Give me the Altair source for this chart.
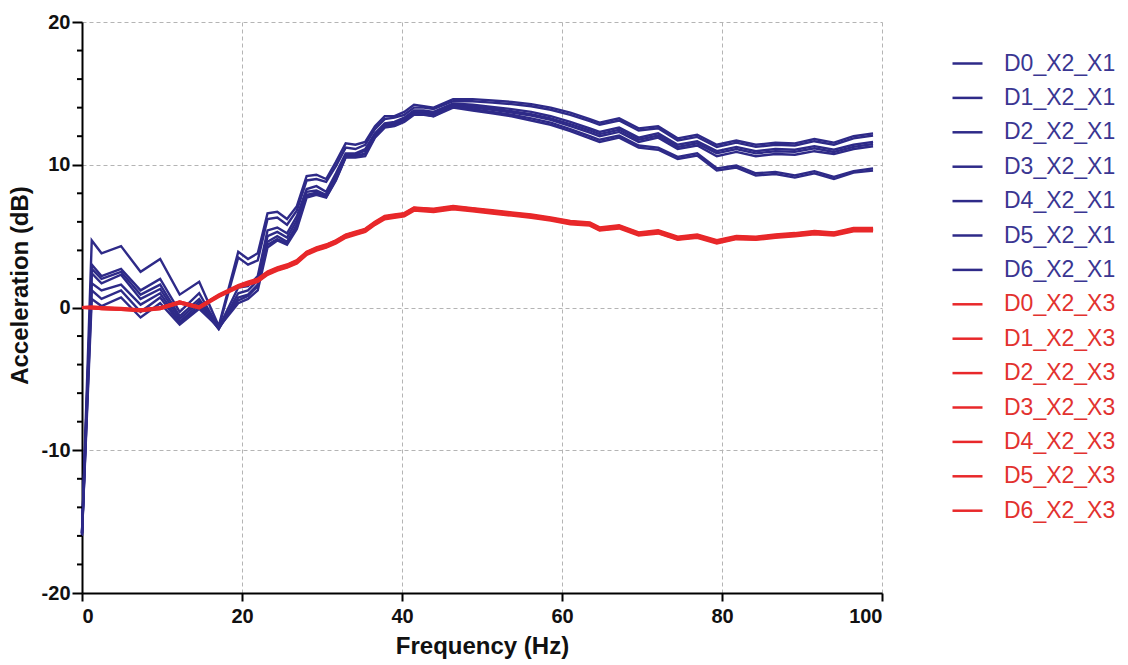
import altair as alt
import pandas as pd

# ---------------- data ----------------
freq = [0, 1.22, 2.44, 4.88, 7.32, 9.77, 12.21, 14.65, 17.09, 19.53,
        20.75, 21.97, 23.19, 24.41, 25.63, 26.86, 28.08, 29.30, 30.52, 31.74,
        32.96, 34.18, 35.40, 36.62, 37.84, 39.06, 40.28, 41.50, 42.72, 43.95,
        46.39, 48.83, 51.27, 53.71, 56.15, 58.59, 61.04, 63.48, 64.70, 67.14,
        69.58, 72.02, 74.46, 76.90, 79.35, 81.79, 84.23, 86.67, 89.11, 91.55,
        93.99, 96.44, 98.88]

blue_D0 = [-15.8, 4.7, 3.8, 4.3, 2.5, 3.4, 0.9, 1.8, -1.3, 3.9,
           3.4, 3.8, 6.6, 6.7, 6.2, 7.1, 9.2, 9.3, 9.0, 10.2,
           11.5, 11.4, 11.6, 12.7, 13.4, 13.4, 13.7, 14.2, 14.1, 14.0,
           14.6, 14.6, 14.5, 14.4, 14.25, 14.0, 13.65, 13.2, 12.95, 13.25,
           12.55, 12.7, 11.85, 12.1, 11.4, 11.7, 11.4, 11.55, 11.5, 11.8,
           11.55, 12.0, 12.2]
blue_D1 = [-15.9, 3.0, 2.2, 2.7, 1.2, 2.0, -0.3, 1.0, -1.4, 3.5,
           3.0, 3.3, 6.2, 6.3, 5.8, 6.8, 8.9, 9.0, 8.8, 9.9,
           11.2, 11.1, 11.4, 12.5, 13.2, 13.3, 13.5, 14.0, 14.0, 13.9,
           14.45, 14.45, 14.35, 14.25, 14.1, 13.85, 13.5, 13.05, 12.8, 13.1,
           12.4, 12.55, 11.7, 11.95, 11.25, 11.55, 11.25, 11.4, 11.35, 11.65,
           11.4, 11.85, 12.05]
blue_D2 = [-15.7, 2.7, 2.0, 2.5, 0.9, 1.6, -0.6, 0.6, -1.4, 1.4,
           1.5, 2.2, 5.4, 5.6, 5.2, 6.4, 8.3, 8.5, 8.1, 9.4,
           10.8, 10.8, 11.1, 12.2, 12.9, 13.0, 13.3, 13.8, 13.8, 13.7,
           14.3, 14.2, 14.05, 13.9, 13.7, 13.4, 13.0, 12.55, 12.3, 12.6,
           11.9, 12.2, 11.4, 11.65, 10.95, 11.25, 10.95, 11.1, 11.05, 11.3,
           11.05, 11.4, 11.6]
blue_D3 = [-15.8, 2.4, 1.7, 2.3, 0.6, 1.3, -0.8, 0.4, -1.5, 1.0,
           1.2, 1.9, 5.0, 5.3, 4.9, 6.1, 8.1, 8.2, 7.9, 9.2,
           10.7, 10.7, 11.0, 12.1, 12.8, 12.9, 13.2, 13.7, 13.7, 13.6,
           14.2, 14.1, 13.95, 13.75, 13.55, 13.25, 12.85, 12.4, 12.15, 12.45,
           11.75, 12.05, 11.25, 11.5, 10.8, 11.1, 10.8, 10.95, 10.9, 11.15,
           10.9, 11.25, 11.45]
blue_D4 = [-16.0, 1.7, 1.2, 1.6, 0.2, 1.0, -1.0, 0.2, -1.5, 0.7,
           0.9, 1.6, 4.6, 5.0, 4.6, 5.8, 7.9, 8.0, 7.8, 9.0,
           10.6, 10.6, 10.8, 12.0, 12.7, 12.8, 13.1, 13.6, 13.6, 13.5,
           14.15, 14.0, 13.85, 13.65, 13.45, 13.15, 12.7, 12.25, 12.0, 12.3,
           11.6, 11.9, 11.1, 11.35, 10.6, 10.9, 10.6, 10.75, 10.7, 10.95,
           10.75, 11.1, 11.3]
blue_D5 = [-15.8, 1.2, 0.6, 1.2, -0.3, 0.7, -1.1, 0.0, -1.4, 0.5,
           0.8, 1.5, 4.4, 4.8, 4.5, 5.7, 7.85, 8.05, 7.75, 8.95,
           10.55, 10.55, 10.75, 11.95, 12.65, 12.75, 13.05, 13.55, 13.55, 13.4,
           14.1, 13.9, 13.7, 13.5, 13.25, 12.95, 12.5, 12.0, 11.75, 12.05,
           11.35, 11.2, 10.55, 10.8, 9.75, 9.95, 9.4, 9.5, 9.25, 9.55,
           9.15, 9.55, 9.75]
blue_D6 = [-15.9, 0.6, 0.1, 0.7, -0.7, 0.3, -1.2, -0.1, -1.4, 0.3,
           0.6, 1.2, 4.2, 4.7, 4.4, 5.5, 7.7, 7.9, 7.7, 8.9,
           10.5, 10.5, 10.6, 11.9, 12.6, 12.7, 13.0, 13.5, 13.5, 13.4,
           14.0, 13.8, 13.6, 13.4, 13.1, 12.8, 12.35, 11.85, 11.6, 11.9,
           11.2, 11.05, 10.4, 10.65, 9.6, 9.8, 9.25, 9.35, 9.1, 9.4,
           9.0, 9.45, 9.6]

red_D0 = [0.0, 0.0, -0.05, -0.1, -0.2, -0.05, 0.35, 0.0, 0.8, 1.45,
          1.7, 1.9, 2.4, 2.7, 2.9, 3.2, 3.8, 4.1, 4.3, 4.6,
          5.0, 5.2, 5.4, 5.9, 6.3, 6.4, 6.5, 6.9, 6.85, 6.8,
          7.0, 6.85, 6.7, 6.55, 6.4, 6.2, 5.95, 5.85, 5.5, 5.65,
          5.15, 5.3, 4.85, 5.0, 4.6, 4.9, 4.85, 5.0, 5.1, 5.25,
          5.15, 5.45, 5.45]
red_D1 = [0.0, 0.05, 0.0, -0.05, -0.15, 0.0, 0.4, 0.05, 0.9, 1.55,
          1.8, 2.0, 2.5, 2.8, 3.0, 3.3, 3.9, 4.2, 4.4, 4.7,
          5.1, 5.3, 5.5, 6.0, 6.4, 6.5, 6.6, 7.0, 6.95, 6.9,
          7.1, 6.95, 6.8, 6.65, 6.5, 6.3, 6.05, 5.95, 5.6, 5.75,
          5.25, 5.4, 4.95, 5.1, 4.7, 5.0, 4.95, 5.1, 5.2, 5.35,
          5.25, 5.55, 5.55]
red_D2 = [0.0, -0.05, -0.1, -0.15, -0.25, -0.1, 0.3, -0.05, 0.75, 1.4,
          1.6, 1.8, 2.3, 2.6, 2.8, 3.1, 3.7, 4.0, 4.2, 4.5,
          4.9, 5.1, 5.3, 5.8, 6.2, 6.3, 6.4, 6.8, 6.75, 6.7,
          6.9, 6.75, 6.6, 6.45, 6.3, 6.1, 5.85, 5.75, 5.4, 5.55,
          5.05, 5.2, 4.75, 4.9, 4.5, 4.8, 4.75, 4.9, 5.0, 5.15,
          5.05, 5.35, 5.35]
red_D3 = [0.0, 0.0, -0.05, -0.1, -0.15, -0.05, 0.35, 0.05, 0.85, 1.5,
          1.75, 1.95, 2.45, 2.75, 2.95, 3.25, 3.85, 4.15, 4.35, 4.65,
          5.05, 5.25, 5.45, 5.95, 6.35, 6.45, 6.55, 6.95, 6.9, 6.85,
          7.05, 6.9, 6.75, 6.6, 6.45, 6.25, 6.0, 5.9, 5.55, 5.7,
          5.2, 5.35, 4.9, 5.05, 4.65, 4.95, 4.9, 5.05, 5.15, 5.3,
          5.2, 5.5, 5.5]
red_D4 = [0.0, -0.05, -0.05, -0.1, -0.2, -0.1, 0.3, 0.0, 0.8, 1.45,
          1.65, 1.85, 2.35, 2.65, 2.85, 3.15, 3.75, 4.05, 4.25, 4.55,
          4.95, 5.15, 5.35, 5.85, 6.25, 6.35, 6.45, 6.85, 6.8, 6.75,
          6.95, 6.8, 6.65, 6.5, 6.35, 6.15, 5.9, 5.8, 5.45, 5.6,
          5.1, 5.25, 4.8, 4.95, 4.55, 4.85, 4.8, 4.95, 5.05, 5.2,
          5.1, 5.4, 5.4]
red_D5 = [0.0, 0.05, 0.0, -0.1, -0.2, 0.0, 0.4, 0.05, 0.85, 1.5,
          1.75, 1.95, 2.45, 2.75, 2.95, 3.25, 3.85, 4.15, 4.35, 4.65,
          5.05, 5.25, 5.45, 5.95, 6.35, 6.45, 6.55, 6.95, 6.9, 6.85,
          7.05, 6.9, 6.75, 6.6, 6.45, 6.25, 6.0, 5.9, 5.55, 5.7,
          5.2, 5.35, 4.9, 5.05, 4.65, 4.95, 4.9, 5.05, 5.15, 5.3,
          5.2, 5.5, 5.5]
red_D6 = [0.0, 0.0, -0.1, -0.15, -0.2, -0.05, 0.35, 0.0, 0.8, 1.45,
          1.7, 1.9, 2.4, 2.7, 2.9, 3.2, 3.8, 4.1, 4.3, 4.6,
          5.0, 5.2, 5.4, 5.9, 6.3, 6.4, 6.5, 6.9, 6.85, 6.8,
          7.0, 6.85, 6.7, 6.55, 6.4, 6.2, 5.95, 5.85, 5.5, 5.65,
          5.15, 5.3, 4.85, 5.0, 4.6, 4.9, 4.85, 5.0, 5.1, 5.25,
          5.15, 5.45, 5.45]

blue_names = ["D0_X2_X1", "D1_X2_X1", "D2_X2_X1", "D3_X2_X1",
              "D4_X2_X1", "D5_X2_X1", "D6_X2_X1"]
red_names = ["D0_X2_X3", "D1_X2_X3", "D2_X2_X3", "D3_X2_X3",
             "D4_X2_X3", "D5_X2_X3", "D6_X2_X3"]
blue_series = [blue_D0, blue_D1, blue_D2, blue_D3, blue_D4, blue_D5, blue_D6]
red_series = [red_D0, red_D1, red_D2, red_D3, red_D4, red_D5, red_D6]

x_ticks = [0, 20, 40, 60, 80, 100]
y_ticks = [-20, -10, 0, 10, 20]
y_minor_ticks = [-18, -16, -14, -12, -8, -6, -4, -2, 2, 4, 6, 8, 12, 14, 16, 18]

BLUE = "#2e2a88"
RED = "#e8282a"
BLUE_LABEL = "#3a3692"
RED_LABEL = "#e2322f"
FONT = "Liberation Sans"

rows = []
for name, ys in zip(blue_names, blue_series):
    for f, v in zip(freq, ys):
        rows.append({"series": name, "grp": "X1", "f": f, "db": v})
for name, ys in zip(red_names, red_series):
    for f, v in zip(freq, ys):
        rows.append({"series": name, "grp": "X3", "f": f, "db": v})
df = pd.DataFrame(rows)
minor_df = pd.DataFrame({"db": y_minor_ticks})

x_enc = alt.X(
    "f:Q",
    scale=alt.Scale(domain=[0, 100], nice=False, zero=False),
    axis=alt.Axis(values=x_ticks, title="Frequency (Hz)", tickSize=8,
                  labelPadding=5, labelFontSize=20, titleFontSize=24,
                  titlePadding=8, labelExpr="'' + datum.value"),
)
y_scale = alt.Scale(domain=[-20, 20], nice=False, zero=False)
y_axis = alt.Axis(values=y_ticks, title="Acceleration (dB)",
                  orient="left", tickSize=10, labelPadding=2,
                  labelFontSize=20, titleFontSize=24, titlePadding=9,
                  titleY=263, grid=True,
                  labelExpr="'' + datum.value")
y_enc = alt.Y("db:Q", scale=y_scale, axis=y_axis)

color_enc = alt.Color(
    "series:N",
    scale=alt.Scale(domain=blue_names + red_names,
                    range=[BLUE] * 7 + [RED] * 7),
    legend=alt.Legend(
        title=None, orient="none", legendX=869, legendY=25,
        symbolType="stroke", symbolSize=900, symbolStrokeWidth=2.5,
        labelFont=FONT, labelFontSize=23, labelFontWeight="normal",
        labelOffset=20, rowPadding=5.4, labelLimit=300,
        labelColor={"expr": "indexof(datum.label, 'X1') >= 0 ? '%s' : '%s'" % (BLUE_LABEL, RED_LABEL)},
    ),
)

blue_layer = alt.Chart(df[df.grp == "X1"]).mark_line(strokeWidth=2.4).encode(
    x=x_enc, y=y_enc, color=color_enc,
)

red_layer = alt.Chart(df[df.grp == "X3"]).mark_line(strokeWidth=2.8).encode(
    x=x_enc, y=y_enc, color=color_enc,
)

minor_ticks = alt.Chart(minor_df).mark_rule(color="#000000", strokeWidth=2).encode(
    y=y_enc,
    x=alt.value(-5),
    x2=alt.value(0),
)

chart = (
    alt.layer(blue_layer, red_layer, minor_ticks)
    .resolve_scale(y="shared", color="shared")
    .properties(
        width=800, height=571,
        autosize=alt.AutoSizeParams(type="none"),
        padding={"left": 82, "top": 22, "right": 246, "bottom": 72},
        background="white",
    )
    .configure_view(stroke=None)
    .configure_axis(
        labelFont=FONT, labelFontWeight="bold", labelColor="#111111",
        titleFont=FONT, titleFontWeight="bold", titleColor="#111111",
        domainColor="#000000", domainWidth=2,
        tickColor="#000000", tickWidth=2,
        gridColor="#b4b4b4", gridDash=[4, 3], gridWidth=1,
    )
)

chart.save("out.html", embed_options={"renderer": "svg", "actions": False})
